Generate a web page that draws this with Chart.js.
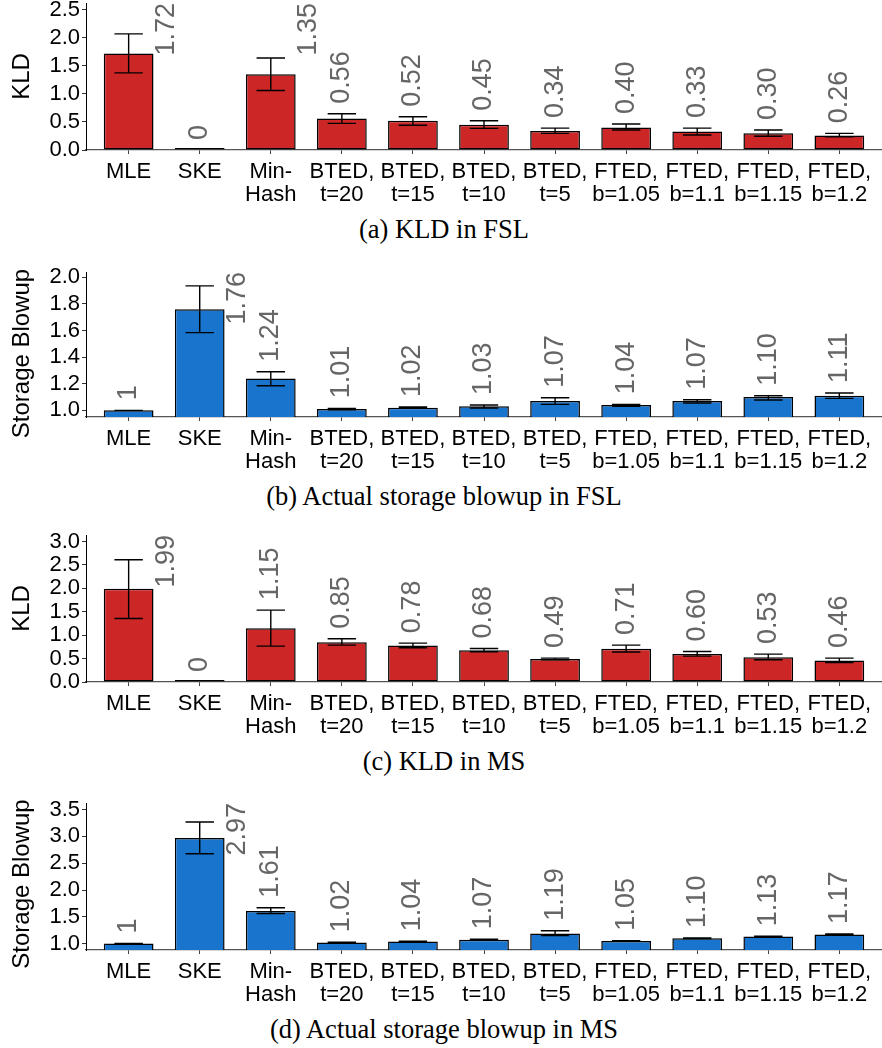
<!DOCTYPE html>
<html><head><meta charset="utf-8">
<script src="https://cdn.jsdelivr.net/npm/chart.js@4/dist/chart.umd.min.js"></script>
<style>
html,body{margin:0;padding:0;background:#fff;}
body{width:882px;height:1048px;position:relative;overflow:hidden;}
canvas{position:absolute;left:0;}
.cap{position:absolute;left:0;width:888px;text-align:center;font-family:"Liberation Serif","Times New Roman",serif;font-size:26.5px;line-height:26.5px;color:#000;white-space:nowrap;}
</style></head><body>
<canvas id="ca" width="882" height="210" style="top:0px"></canvas>
<div class="cap" style="top:216px">(a) KLD in FSL</div>
<canvas id="cb" width="882" height="227" style="top:250px"></canvas>
<div class="cap" style="top:483px">(b) Actual storage blowup in FSL</div>
<canvas id="cc" width="882" height="227" style="top:515px"></canvas>
<div class="cap" style="top:748px">(c) KLD in MS</div>
<canvas id="cd" width="882" height="230" style="top:780px"></canvas>
<div class="cap" style="top:1016px">(d) Actual storage blowup in MS</div>
<script>
const categories = [["MLE"],["SKE"],["Min-","Hash"],["BTED,","t=20"],["BTED,","t=15"],["BTED,","t=10"],["BTED,","t=5"],["FTED,","b=1.05"],["FTED,","b=1.1"],["FTED,","b=1.15"],["FTED,","b=1.2"]];

const kldFSL   = [1.72, 0, 1.35, 0.56, 0.52, 0.45, 0.34, 0.40, 0.33, 0.30, 0.26];
const kldFSLHi = [2.07, null, 1.64, 0.646, 0.593, 0.52, 0.39, 0.463, 0.39, 0.356, 0.297];
const kldFSLLo = [1.375, null, 1.06, 0.475, 0.44, 0.386, 0.297, 0.356, 0.267, 0.244, 0.237];

const blowFSL   = [1, 1.76, 1.24, 1.01, 1.02, 1.03, 1.07, 1.04, 1.07, 1.10, 1.11];
const blowFSLHi = [1.0, 1.936, 1.29, 1.015, 1.025, 1.04, 1.095, 1.045, 1.08, 1.11, 1.13];
const blowFSLLo = [1.0, 1.584, 1.185, 1.005, 1.015, 1.018, 1.045, 1.03, 1.055, 1.078, 1.09];

const kldMS   = [1.99, 0, 1.15, 0.85, 0.78, 0.68, 0.49, 0.71, 0.60, 0.53, 0.46];
const kldMSHi = [2.61, null, 1.536, 0.923, 0.83, 0.716, 0.51, 0.788, 0.652, 0.596, 0.51];
const kldMSLo = [1.357, null, 0.767, 0.788, 0.73, 0.645, 0.475, 0.64, 0.553, 0.474, 0.417];

const blowMS   = [1, 2.97, 1.61, 1.02, 1.04, 1.07, 1.19, 1.05, 1.10, 1.13, 1.17];
const blowMSHi = [1.0, 3.27, 1.67, 1.025, 1.045, 1.08, 1.24, 1.055, 1.105, 1.137, 1.18];
const blowMSLo = [1.0, 2.676, 1.56, 1.015, 1.035, 1.065, 1.148, 1.045, 1.095, 1.125, 1.16];

const yTicksA = [0, 0.5, 1.0, 1.5, 2.0, 2.5];
const yTicksB = [1.0, 1.2, 1.4, 1.6, 1.8, 2.0];
const yTicksC = [0, 0.5, 1.0, 1.5, 2.0, 2.5, 3.0];
const yTicksD = [1.0, 1.5, 2.0, 2.5, 3.0, 3.5];

const RED = '#CD2626', BLUE = '#1874CD';
const SANS = '"Liberation Sans", Arial, Helvetica, sans-serif';

function fmt(v){ return Number.isInteger(v) ? String(v) : v.toFixed(2); }

const errLabelPlugin = {
  id: 'errLabels',
  afterDatasetsDraw(chart){
    const o = chart.options.plugins.errLabels;
    const xs = chart.scales.x, ys = chart.scales.y, a = chart.chartArea, ctx = chart.ctx;
    const step = xs.getPixelForValue(1) - xs.getPixelForValue(0);
    ctx.save();
    ctx.strokeStyle = '#000'; ctx.lineWidth = 1.4;
    o.hi.forEach((h, i) => {
      if (h == null) return;
      const x = xs.getPixelForValue(i), y1 = ys.getPixelForValue(h), y2 = ys.getPixelForValue(o.lo[i]), hw = step * 0.2;
      ctx.beginPath();
      ctx.moveTo(x, y1); ctx.lineTo(x, y2);
      ctx.moveTo(x - hw, y1); ctx.lineTo(x + hw, y1);
      ctx.moveTo(x - hw, y2); ctx.lineTo(x + hw, y2);
      ctx.stroke();
    });
    ctx.font = '27px ' + SANS; ctx.fillStyle = '#666'; ctx.textAlign = 'left'; ctx.textBaseline = 'middle';
    o.values.forEach((v, i) => {
      const t = fmt(v), w = ctx.measureText(t).width;
      const cx = xs.getPixelForValue(i);
      const topV = o.hi[i] != null ? o.hi[i] : v;
      let b = ys.getPixelForValue(topV) - 10, x = cx;
      if (b - w < a.top) { b = a.top + w; x = cx + step * 0.35 + 13; }
      ctx.save(); ctx.translate(x, b); ctx.rotate(-Math.PI / 2); ctx.fillText(t, 0, 0); ctx.restore();
    });
    ctx.font = '24px ' + SANS; ctx.fillStyle = '#000'; ctx.textAlign = 'center'; ctx.textBaseline = 'middle';
    ctx.save(); ctx.translate(22, (a.top + a.bottom) / 2 + o.titleDy); ctx.rotate(-Math.PI / 2); ctx.fillText(o.title, 0, 0); ctx.restore();
    ctx.restore();
  }
};

function makeChart(id, vals, hi, lo, color, yMin, yMax, yTicks, title, titleDy, padTop){
  return new Chart(document.getElementById(id), {
    type: 'bar',
    data: { datasets: [{
      data: vals.map((v, i) => ({ x: i, y: v })),
      backgroundColor: color, borderColor: '#000', borderWidth: 1.5, borderSkipped: false,
      barPercentage: 0.7, categoryPercentage: 1, minBarLength: 2
    }]},
    options: {
      responsive: false, animation: false, events: [],
      layout: { padding: { top: padTop, left: 0, right: 0, bottom: 0 } },
      plugins: { legend: { display: false }, tooltip: { enabled: false },
        errLabels: { values: vals, hi: hi, lo: lo, title: title, titleDy: titleDy } },
      scales: {
        x: { type: 'linear', offset: false, min: -0.6, max: categories.length - 0.4,
          afterBuildTicks(s){ s.ticks = categories.map((c, i) => ({ value: i })); },
          afterFit(s){ s.height = 60; s.paddingLeft = 0; s.paddingRight = 0; },
          ticks: { autoSkip: false, maxRotation: 0, minRotation: 0, padding: 6, color: '#000',
            font: { family: SANS, size: 22, lineHeight: 1.07 }, callback: (v) => categories[v] },
          grid: { offset: false, drawOnChartArea: false, drawTicks: true, tickLength: 4, color: '#444', lineWidth: 1 },
          border: { display: true, color: '#555', width: 1.3 } },
        y: { min: yMin, max: yMax,
          afterBuildTicks(s){ s.ticks = yTicks.map(v => ({ value: v })); },
          afterFit(s){ s.width = 86; s.paddingTop = 0; s.paddingBottom = 0; },
          ticks: { autoSkip: false, padding: 2, color: '#000', font: { family: SANS, size: 22 }, callback: (v) => Number(v).toFixed(1) },
          grid: { drawOnChartArea: false, drawTicks: true, tickLength: 4, color: '#333' },
          border: { display: true, color: '#000', width: 1 } }
      }
    },
    plugins: [errLabelPlugin]
  });
}

makeChart('ca', kldFSL, kldFSLHi, kldFSLLo, RED, 0, 2.62, yTicksA, 'KLD', 0, 3);
makeChart('cb', blowFSL, blowFSLHi, blowFSLLo, BLUE, 0.95, 2.04, yTicksB, 'Storage Blowup', 9, 22);
makeChart('cc', kldMS, kldMSHi, kldMSLo, RED, 0, 3.14, yTicksC, 'KLD', 0, 20);
makeChart('cd', blowMS, blowMSHi, blowMSLo, BLUE, 0.88, 3.624, yTicksD, 'Storage Blowup', 7.5, 23);
</script>
</body></html>
